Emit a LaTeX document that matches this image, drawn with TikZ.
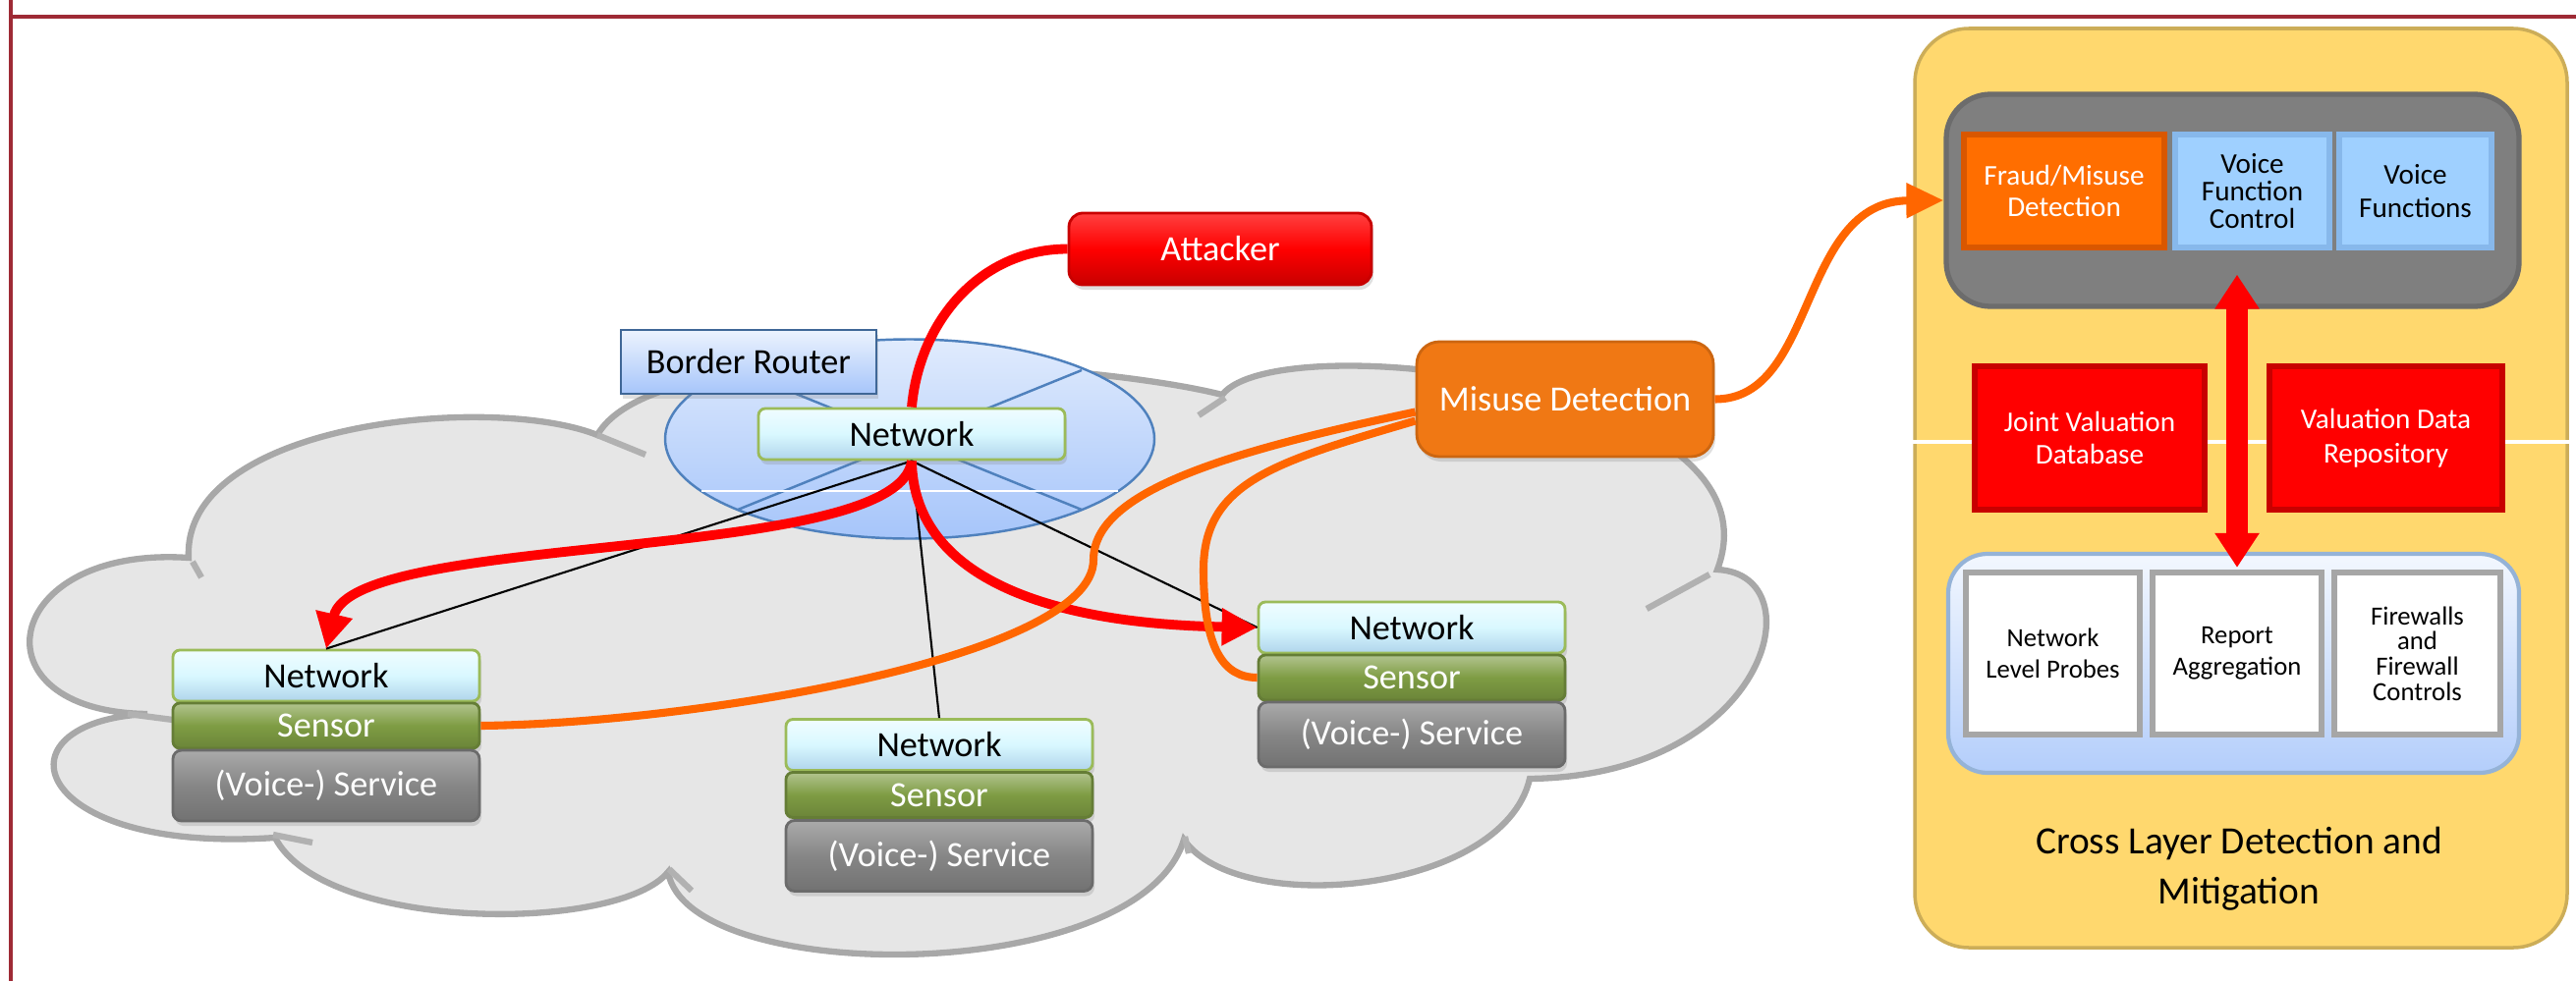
\documentclass[tikz,border=0pt]{standalone}
\usepackage{fontspec}
\setmainfont{Carlito}
\usepackage{tikz}
\usetikzlibrary{arrows.meta,positioning,calc,shapes.geometric,shadows}
\usepackage{xcolor}
\definecolor{FrameRed}{HTML}{9E2A35}
\definecolor{CloudFill}{HTML}{E6E6E6}
\definecolor{CloudEdge}{HTML}{A8A8A8}
\definecolor{RouterTop}{HTML}{E0EBFD}
\definecolor{RouterBot}{HTML}{A6C5FA}
\definecolor{RouterEdge}{HTML}{4F81BD}
\definecolor{NetCyan}{HTML}{D9F8FF}
\definecolor{NetEdge}{HTML}{9BBB59}
\definecolor{SensGreen}{HTML}{7E9C43}
\definecolor{ServGray}{HTML}{868686}
\definecolor{AlarmRed}{HTML}{FF0000}
\definecolor{AlarmEdge}{HTML}{C80000}
\definecolor{MisuseOrange}{HTML}{F07814}
\definecolor{LineOrange}{HTML}{FF6600}
\definecolor{PanelGold}{HTML}{FFD86E}
\definecolor{CoreGray}{HTML}{7F7F7F}
\definecolor{VoiceBlue}{HTML}{9FD0FF}

\begin{document}
\begin{tikzpicture}[
  font=\fontsize{10.3}{12}\selectfont,
  box/.style={rectangle,inner sep=0pt,align=center,line width=0.8pt},
  shade box/.style={drop shadow={shadow xshift=0.02cm,shadow yshift=-0.05cm,opacity=0.25}},
  netbox/.style={box,shade box,minimum width=3.12cm,minimum height=0.52cm,rounded corners=2pt,
    draw=NetEdge,top color=NetCyan!40!white,bottom color=NetCyan!70!RouterEdge,middle color=NetCyan},
  sensbox/.style={box,shade box,minimum width=3.12cm,minimum height=0.46cm,rounded corners=2pt,
    draw=SensGreen!80!black,top color=SensGreen!60!white,bottom color=SensGreen!85!black,middle color=SensGreen,text=white},
  servbox/.style={box,shade box,minimum width=3.12cm,minimum height=0.72cm,rounded corners=2.5pt,
    draw=ServGray!80!black,top color=ServGray!70!white,bottom color=ServGray!85!black,middle color=ServGray,text=white},
  routerbox/.style={box,shade box,minimum width=2.6cm,minimum height=0.65cm,draw=RouterEdge!80!black,
    top color=RouterTop!60!white,bottom color=RouterBot},
  alarmbox/.style={box,shade box,minimum width=3.08cm,minimum height=0.73cm,rounded corners=4pt,
    draw=AlarmEdge,top color=AlarmRed!75!white,bottom color=AlarmEdge,middle color=AlarmRed,text=white},
  misusebox/.style={box,shade box,minimum width=3.02cm,minimum height=1.17cm,rounded corners=0.23cm,
    draw=MisuseOrange!85!black,fill=MisuseOrange,text=white},
  panelbox/.style={box,minimum width=6.64cm,minimum height=9.36cm,rounded corners=0.55cm,
    draw=PanelGold!80!black,line width=1pt,fill=PanelGold},
  corebox/.style={box,minimum width=5.83cm,minimum height=2.16cm,rounded corners=0.45cm,
    draw=CoreGray!85!black,line width=1.5pt,fill=CoreGray},
  small/.style={font=\fontsize{8.3}{9.3}\selectfont},
  fraudbox/.style={box,small,minimum width=2.04cm,minimum height=1.15cm,draw=LineOrange!85!black,
    line width=1.5pt,fill=LineOrange!95!yellow,text=white},
  voicebox/.style={box,small,minimum height=1.15cm,draw=VoiceBlue!70!RouterEdge,line width=1.5pt,fill=VoiceBlue},
  alarmsq/.style={box,small,minimum height=1.46cm,draw=AlarmEdge,line width=1.5pt,fill=AlarmRed,text=white},
  mitigbox/.style={box,minimum width=5.81cm,minimum height=2.23cm,rounded corners=0.4cm,
    draw=RouterEdge!60!white,line width=1.2pt,top color=RouterTop!40!white,bottom color=RouterBot!85!white},
  probebox/.style={box,font=\fontsize{7.6}{9.1}\selectfont,minimum width=1.77cm,minimum height=1.65cm,
    draw=gray!70,line width=1.5pt,fill=white},
  wire/.style={black,line width=0.6pt},
  redline/.style={AlarmRed,line width=2.8pt},
  redarrow/.style={redline,-{Triangle[length=3.6mm,width=3.6mm]}},
  orgline/.style={LineOrange,line width=2.3pt},
  orgarrow/.style={orgline,-{Triangle[length=3.8mm,width=3.4mm]}},
  dblarrow/.style={AlarmRed,line width=6.5pt,{Triangle[length=3.5mm,width=4.3mm]}-{Triangle[length=3.5mm,width=4.3mm]}},
  notch/.style={CloudEdge!90!white,line width=1.8pt}
]
\useasboundingbox (0,0) rectangle (26.22,-9.99);

% frame
\draw[FrameRed,line width=1.2pt] (0.11,0) -- (0.11,-9.99);
\draw[FrameRed,line width=1.2pt] (0.11,-0.17) -- (26.22,-0.17);

% cloud
\draw[CloudEdge,line width=1.8pt,fill=CloudFill]
  (1.92,-5.68) .. controls (1.85,-4.3) and (5.0,-4.0) .. (6.08,-4.43)
  .. controls (6.7,-3.35) and (11.2,-3.7) .. (12.44,-4.02)
  .. controls (13.0,-3.3) and (18.2,-3.9) .. (17.48,-5.80)
  .. controls (18.5,-5.85) and (18.0,-7.9) .. (15.57,-7.93)
  .. controls (15.3,-9.1) and (12.6,-9.35) .. (12.05,-8.55)
  .. controls (11.6,-10.05) and (7.0,-10.05) .. (6.80,-8.88)
  .. controls (6.3,-9.5) and (3.3,-9.5) .. (2.80,-8.53)
  .. controls (0.3,-8.7) and (-0.1,-7.35) .. (1.50,-7.27)
  .. controls (-0.3,-7.25) and (0.0,-5.55) .. cycle;
\draw[notch] (1.96,-5.72) -- (2.05,-5.88);
\draw[notch] (6.08,-4.43) -- (6.57,-4.63);
\draw[notch] (12.47,-4.05) -- (12.20,-4.23);
\draw[notch] (17.40,-5.85) -- (16.76,-6.20);
\draw[notch] (12.06,-8.52) -- (12.10,-8.69);
\draw[notch] (6.81,-8.85) -- (7.04,-9.07);
\draw[notch] (2.78,-8.50) -- (3.18,-8.58);
\draw[notch] (1.30,-7.27) -- (1.76,-7.33);

% router
\node[ellipse,minimum width=4.98cm,minimum height=2.03cm,draw=RouterEdge,line width=0.7pt,
  top color=RouterTop,bottom color=RouterBot] (rtr) at (9.26,-4.47) {};
\draw[RouterEdge,line width=0.7pt] (7.51,-3.77) -- (11.01,-5.19);
\draw[RouterEdge,line width=0.7pt] (7.51,-5.19) -- (11.01,-3.77);
\draw[white,line width=0.6pt] (7.14,-5.00) -- (11.38,-5.00);

\node[routerbox] (border) at (7.62,-3.685) {Border Router};
\node[netbox] (netc) at (9.28,-4.42) {Network};
\node[alarmbox] (attacker) at (12.42,-2.535) {Attacker};
\node[misusebox] (misuse) at (15.93,-4.065) {Misuse Detection};

% hosts
\node[netbox] (netl) at (3.32,-6.88) {Network};
\node[sensbox] (senl) at (3.32,-7.39) {Sensor};
\node[servbox] (srvl) at (3.32,-8.00) {(Voice-) Service};
\node[netbox] (netm) at (9.56,-7.585) {Network};
\node[sensbox] (senm) at (9.56,-8.095) {Sensor};
\node[servbox] (srvm) at (9.56,-8.715) {(Voice-) Service};
\node[netbox] (netr) at (14.37,-6.39) {Network};
\node[sensbox] (senr) at (14.37,-6.90) {Sensor};
\node[servbox,minimum height=0.66cm] (srvr) at (14.37,-7.48) {(Voice-) Service};

% cross layer panel
\node[panelbox] (panel) at (22.81,-4.97) {};
\draw[white,line width=1.3pt] (panel.west |- 0,-4.50) -- (panel.east |- 0,-4.50);
\node[corebox] (core) at (22.725,-2.04) {};
\node[fraudbox] (fraud) at (21.01,-1.945) {Fraud/Misuse\\Detection};
\node[voicebox,minimum width=1.57cm,font=\fontsize{8.3}{7.9}\selectfont] (vfc) at (22.925,-1.945) {Voice\\Function\\Control};
\node[voicebox,minimum width=1.55cm,font=\fontsize{8.3}{9.8}\selectfont] (vfs) at (24.585,-1.945) {Voice\\Functions};
\node[alarmsq,minimum width=2.34cm] (jvd) at (21.27,-4.46) {Joint Valuation\\Database};
\node[alarmsq,minimum width=2.37cm,font=\fontsize{8.3}{10}\selectfont] (vdr) at (24.285,-4.46) {Valuation Data\\Repository};
\node[mitigbox] (mitig) at (22.735,-6.755) {};
\node[probebox] (probes) at (20.895,-6.655) {Network\\Level Probes};
\node[probebox,minimum width=1.72cm] (report) at (22.77,-6.655) {Report\\Aggregation};
\node[probebox,minimum width=1.69cm,font=\fontsize{7.6}{7.3}\selectfont] (fw) at (24.605,-6.655) {Firewalls\\and\\Firewall\\Controls};
\node[align=center,font=\fontsize{11.2}{14.5}\selectfont] (title) at (22.79,-8.85) {Cross Layer Detection and\\Mitigation};

% links
\draw[wire] (netc.south) -- (netl.north);
\draw[wire] (netc.south) -- (netm.north);
\draw[wire] (netc.south) -- (netr.west);
\draw[redline] (attacker.west) to[out=180,in=85] (netc.north);
\draw[redarrow] (netc.south) .. controls (9.15,-5.75) and (3.6,-5.4) .. (netl.north);
\draw[redarrow] (netc.south) .. controls (9.3,-5.85) and (10.6,-6.35) .. (netr.west);
\draw[orgarrow] (misuse.east) .. controls (18.5,-4.07) and (18.3,-2.05) .. (core.west);
\draw[orgline] ($(misuse.west)+(0,-0.13)$) .. controls (12.5,-4.6) and (11.13,-5.0) .. (11.13,-5.7)
  .. controls (11.13,-6.7) and (7.0,-7.37) .. (senl.east);
\draw[orgline] ($(misuse.west)+(0,-0.22)$) .. controls (13.0,-4.7) and (12.25,-4.9) .. (12.25,-5.8)
  .. controls (12.25,-6.6) and (12.45,-6.9) .. (senr.west);
\draw[dblarrow] ($(report.north |- core.south)+(0,0.35)$) -- ($(report.north |- mitig.north)+(0,-0.16)$);
\end{tikzpicture}
\end{document}
